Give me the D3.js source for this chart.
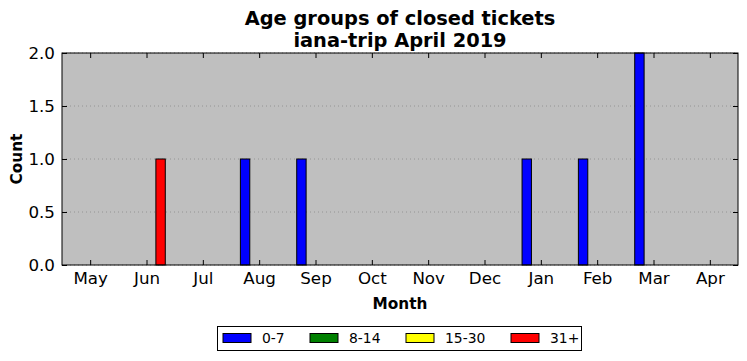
<!DOCTYPE html>
<html><head><meta charset="utf-8">
<script src="https://cdn.jsdelivr.net/npm/d3@7"></script>
<style>body{margin:0;background:#fff;} text{font-family:"DejaVu Sans",sans-serif;}</style>
</head><body>
<svg id="c" width="747" height="361"></svg>
<script>
const months = ["May","Jun","Jul","Aug","Sep","Oct","Nov","Dec","Jan","Feb","Mar","Apr"];
const seriesNames = ["0-7","8-14","15-30","31+"];
const seriesColors = ["#0000ff","#008000","#ffff00","#ff0000"];
const s0_7   = [0,0,0,1,1,0,0,0,1,1,2,0];
const s8_14  = [0,0,0,0,0,0,0,0,0,0,0,0];
const s15_30 = [0,0,0,0,0,0,0,0,0,0,0,0];
const s31p   = [0,1,0,0,0,0,0,0,0,0,0,0];
const yTicks = [0,0.5,1.0,1.5,2.0];
const series = [s0_7,s8_14,s15_30,s31p];

const svg = d3.select("#c");
const L=62,R=738,T=53,B=265;
const x = d3.scaleLinear().domain([-0.5,11.5]).range([L,R]);
const y = d3.scaleLinear().domain([0,2]).range([B,T]);
const bw = 1/6;

svg.append("rect").attr("x",L).attr("y",T).attr("width",R-L).attr("height",B-T).attr("fill","#bfbfbf");

// grid
svg.append("g").selectAll("line").data(yTicks).join("line")
  .attr("x1",L).attr("x2",R).attr("y1",d=>y(d)).attr("y2",d=>y(d))
  .attr("stroke","#8a8a8a").attr("stroke-width",0.8).attr("stroke-dasharray","1,3");

// bars
series.forEach((s,k)=>{
  svg.append("g").selectAll("rect").data(s).join("rect")
    .attr("x",(d,i)=>x(i-2/6+k*bw))
    .attr("width",x(bw)-x(0))
    .attr("y",d=>y(d)).attr("height",d=>y(0)-y(d))
    .attr("fill",seriesColors[k]).attr("stroke","#000").attr("stroke-width",1);
});

// axes
const ax = svg.append("g");
const xb = d3.axisBottom(x).tickValues(d3.range(12)).tickFormat(i=>months[i]).tickSizeInner(-5).tickSizeOuter(0).tickPadding(7);
ax.append("g").attr("transform",`translate(0,${B})`).call(xb);
const xt = d3.axisTop(x).tickValues(d3.range(12)).tickFormat("").tickSizeInner(-5).tickSizeOuter(0);
ax.append("g").attr("transform",`translate(0,${T})`).call(xt);
const yl = d3.axisLeft(y).tickValues(yTicks).tickFormat(d3.format(".1f")).tickSizeInner(-5).tickSizeOuter(0).tickPadding(7);
ax.append("g").attr("transform",`translate(${L},0)`).call(yl);
const yr = d3.axisRight(y).tickValues(yTicks).tickFormat("").tickSizeInner(-5).tickSizeOuter(0);
ax.append("g").attr("transform",`translate(${R},0)`).call(yr);
ax.selectAll(".domain").remove();
ax.selectAll("line").attr("stroke","#000");
ax.selectAll("text").attr("font-size",16.7).attr("font-family","DejaVu Sans").attr("fill","#000");
svg.append("rect").attr("x",L).attr("y",T).attr("width",R-L).attr("height",B-T).attr("fill","none").attr("stroke","#000").attr("stroke-width",1);

// titles
svg.append("text").attr("x",400).attr("y",25).attr("text-anchor","middle").attr("font-size",19.4).attr("font-weight","bold").text("Age groups of closed tickets");
svg.append("text").attr("x",400).attr("y",47).attr("text-anchor","middle").attr("font-size",19.4).attr("font-weight","bold").text("iana-trip April 2019");
svg.append("text").attr("x",400).attr("y",309).attr("text-anchor","middle").attr("font-size",15.3).attr("font-weight","bold").text("Month");
svg.append("text").attr("transform","translate(22,159) rotate(-90)").attr("text-anchor","middle").attr("font-size",15.3).attr("font-weight","bold").text("Count");

// legend
const lg = svg.append("g");
lg.append("rect").attr("x",217.5).attr("y",326.5).attr("width",364).attr("height",24).attr("fill","#fff").attr("stroke","#000");
const lx = [223,310,406,511];
seriesNames.forEach((n,k)=>{
  lg.append("rect").attr("x",lx[k]).attr("y",333.5).attr("width",28).attr("height",9).attr("fill",seriesColors[k]).attr("stroke","#000");
  lg.append("text").attr("x",lx[k]+39).attr("y",343).attr("font-size",13.9).text(n);
});
</script>
</body></html>
